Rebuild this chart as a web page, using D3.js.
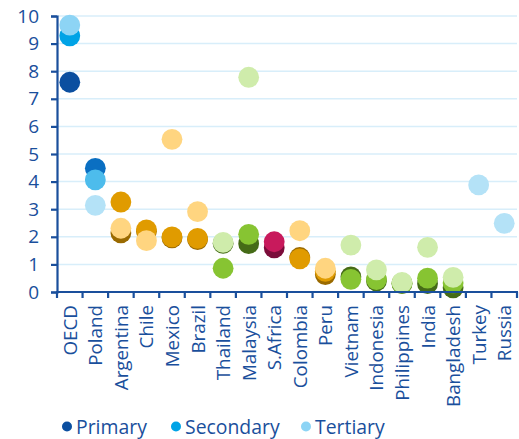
<!DOCTYPE html>
<html>
<head>
<meta charset="utf-8">
<script src="https://cdn.jsdelivr.net/npm/d3@7"></script>
<style>
  html, body { margin: 0; padding: 0; background: #fff; }
  svg { display: block; font-family: "Open Sans", "Noto Sans", sans-serif; }
</style>
</head>
<body>
<svg id="chart" width="519" height="439"></svg>
<script>
// Countries along the x axis
const countries = ["OECD", "Poland", "Argentina", "Chile", "Mexico", "Brazil", "Thailand",
  "Malaysia", "S.Africa", "Colombia", "Peru", "Vietnam", "Indonesia", "Philippines",
  "India", "Bangladesh", "Turkey", "Russia"];

// Region of each country (selects the colour family)
const regions = ["oecd", "cee", "latam", "latam", "latam", "latam", "asia",
  "asia", "africa", "latam", "latam", "asia", "asia", "asia",
  "asia", "asia", "cee", "cee"];

// Values by education level (null = not reported)
const primary   = [7.6, 4.48, 2.14, 2.2, 1.96, 1.9, 1.76, 1.75, 1.6, 1.25, 0.63, 0.55, 0.4, 0.3, 0.3, 0.15, null, null];
const secondary = [9.28, 4.06, 3.26, 2.25, 2.0, 1.94, 0.86, 2.09, 1.82, 1.2, 0.75, 0.46, 0.45, 0.32, 0.5, 0.33, null, null];
const tertiary  = [9.67, 3.14, 2.31, 1.86, 5.53, 2.91, 1.8, 7.78, null, 2.22, 0.86, 1.7, 0.8, 0.35, 1.62, 0.53, 3.88, 2.49];

const yTicks = [0, 1, 2, 3, 4, 5, 6, 7, 8, 9, 10];
const seriesNames = ["Primary", "Secondary", "Tertiary"];

// Colour families: [primary, secondary, tertiary]
const palette = {
  oecd:   ["#0b4fa0", "#00a3e6", "#8dd4f5"],
  cee:    ["#0a6fc2", "#4dbcec", "#b4e2f7"],
  latam:  ["#9a6a00", "#e09b00", "#ffd580"],
  asia:   ["#456b17", "#87c432", "#cfecab"],
  africa: ["#7b0c3a", "#c81a5c", "#f0a0c0"]
};

const ink = "#1a4f9c";
const svg = d3.select("#chart");
const margin = { left: 57, right: 2, top: 16, bottom: 147 };
const W = 519, H = 439;

const x = d3.scaleBand().domain(countries).range([margin.left, W - margin.right]);
const y = d3.scaleLinear().domain([0, 10]).range([H - margin.bottom, margin.top]);

// Horizontal gridlines
svg.append("g")
  .selectAll("line")
  .data(yTicks.filter(d => d > 0))
  .join("line")
  .attr("x1", margin.left).attr("x2", W - margin.right)
  .attr("y1", d => y(d)).attr("y2", d => y(d))
  .attr("stroke", "#d8eefa").attr("stroke-width", 1.5);

// Dots: primary first, tertiary on top
const series = [primary, secondary, tertiary];
const r = 10.4;
series.forEach((vals, si) => {
  svg.append("g")
    .selectAll("circle")
    .data(countries.map((c, i) => ({ c, v: vals[i], reg: regions[i] })).filter(d => d.v != null))
    .join("circle")
    .attr("cx", d => x(d.c) + x.bandwidth() / 2)
    .attr("cy", d => y(d.v))
    .attr("r", r)
    .attr("fill", d => palette[d.reg][si]);
});

// Y axis
const yAxis = svg.append("g")
  .attr("transform", `translate(${margin.left},0)`)
  .call(d3.axisLeft(y).tickValues(yTicks).tickSize(6).tickPadding(12).tickFormat(d3.format("d")));
yAxis.select(".domain").attr("stroke", ink).attr("stroke-width", 2.2);
yAxis.selectAll(".tick line").attr("stroke", ink).attr("stroke-width", 2.2);
yAxis.selectAll(".tick text").attr("fill", ink).attr("font-size", 19).attr("font-family", "Open Sans");

// X axis with ticks on band edges
const xg = svg.append("g").attr("transform", `translate(0,${y(0)})`);
xg.append("line")
  .attr("x1", margin.left - 1).attr("x2", W - margin.right + 1)
  .attr("y1", 0).attr("y2", 0)
  .attr("stroke", ink).attr("stroke-width", 2.2);
const edges = countries.map(c => x(c)).concat([x.range()[1]]);
xg.selectAll("line.tk")
  .data(edges)
  .join("line")
  .attr("class", "tk")
  .attr("x1", d => d).attr("x2", d => d)
  .attr("y1", 0).attr("y2", 6)
  .attr("stroke", ink).attr("stroke-width", 2.2);
xg.selectAll("text")
  .data(countries)
  .join("text")
  .attr("transform", d => `translate(${x(d) + x.bandwidth() / 2 + 7},13) rotate(-90)`)
  .attr("text-anchor", "end")
  .attr("fill", ink)
  .attr("font-size", 18.8)
  .text(d => d);

// Legend
const legend = svg.append("g").attr("transform", "translate(0,434)");
const legendX = [67, 176, 306];
seriesNames.forEach((name, i) => {
  legend.append("circle")
    .attr("cx", legendX[i]).attr("cy", -7.5).attr("r", 5)
    .attr("fill", palette.oecd[i]);
  legend.append("text")
    .attr("x", legendX[i] + 9).attr("y", 0)
    .attr("fill", ink).attr("font-size", 19.4)
    .text(name);
});
</script>
</body>
</html>
